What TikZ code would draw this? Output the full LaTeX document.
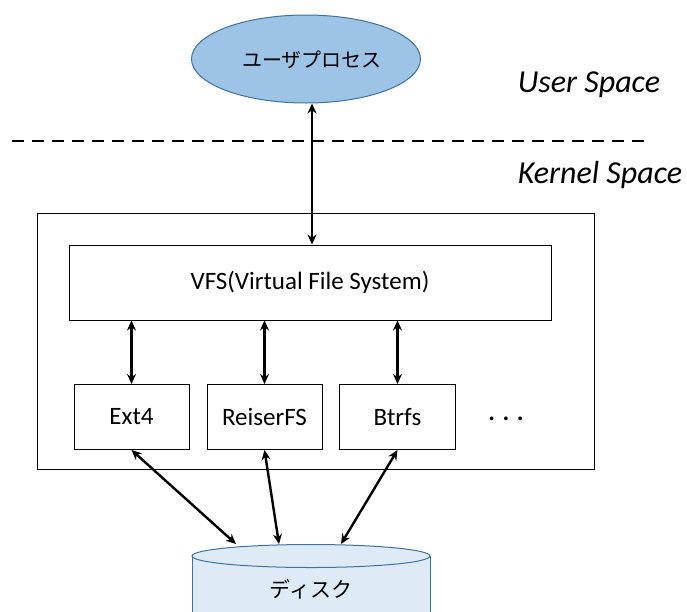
\documentclass[tikz,border=0pt]{standalone}
\usepackage{fontspec}
\setmainfont{Carlito}
\newfontfamily\jpfont{Noto Sans CJK JP}
\usetikzlibrary{arrows.meta,shapes.geometric}
\definecolor{procfill}{HTML}{9DC3E6}
\definecolor{procline}{HTML}{41719C}
\definecolor{diskfill}{HTML}{DEEBF7}
\tikzset{
  fsbox/.style={draw=black, line width=1pt, fill=white, inner sep=0pt},
  dbl/.style={line width=2.4pt, {Stealth[length=10pt,width=9pt]}-{Stealth[length=10pt,width=9pt]}},
  spacelabel/.style={font=\fontsize{32}{36}\selectfont\itshape, inner sep=0pt},
  boxtext/.style={font=\fontsize{25}{28}\selectfont},
}
\begin{document}
\begin{tikzpicture}[x=1pt,y=-1pt]
\useasboundingbox (0,0) rectangle (687,611);

% user process
\node[ellipse, draw=procline, line width=1pt, fill=procfill, inner sep=0pt,
      minimum width=229pt, minimum height=88pt] (proc) at (306,59) {};
\node[font=\jpfont\fontsize{20}{24}\selectfont, inner sep=0pt] (proctext) at (312,60) {ユーザプロセス};

% space labels and boundary
\node[spacelabel] (user) at (589,85) {User Space};
\node[spacelabel] (kernel) at (600,175) {Kernel Space};
\coordinate (dashL) at (12,141);
\coordinate (dashR) at (650,141);
\draw[line width=2pt, dash pattern=on 12pt off 8pt] (dashL) -- (dashR);

% kernel frame
\node[fsbox, minimum width=557pt, minimum height=256pt] (kframe) at (315.5,341) {};

% VFS layer
\node[fsbox, boxtext, minimum width=482pt, minimum height=75pt] (vfs) at (310,282.5) {VFS(Virtual File System)};

% filesystems
\node[fsbox, boxtext, minimum width=115pt, minimum height=65pt] (ext) at (131.5,417) {Ext4};
\node[fsbox, boxtext, minimum width=115pt, minimum height=65pt] (reiser) at (264.5,417) {ReiserFS};
\node[fsbox, boxtext, minimum width=116pt, minimum height=65pt] (btrfs) at (397.5,417) {Btrfs};
\node[font=\fontsize{25}{28}\selectfont\bfseries, inner sep=0pt, anchor=base] (dots) at (506,420) {. . .};

% disk
\fill[diskfill] (192,556) -- (192,640) -- (430,640) -- (430,556) -- cycle;
\draw[procline, line width=1pt] (192,556) -- (192,640) (430,556) -- (430,640);
\draw[procline, line width=1pt, fill=diskfill] (311,556) ellipse [x radius=119, y radius=11.5];
\node[font=\jpfont\fontsize{21}{25}\selectfont, inner sep=0pt] (disktext) at (311,589) {ディスク};
\coordinate (d1) at (236,544);
\coordinate (d2) at (279,544);
\coordinate (d3) at (341,544);

% connectors
\coordinate (ax) at (312,0);
\draw[dbl] (proc.south -| ax) -- (vfs.north -| ax);
\draw[dbl] (vfs.south -| ext) -- (ext.north);
\draw[dbl] (vfs.south -| reiser) -- (reiser.north);
\draw[dbl] (vfs.south -| btrfs) -- (btrfs.north);
\draw[dbl] (ext.south) -- (d1);
\draw[dbl] (reiser.south) -- (d2);
\draw[dbl] (btrfs.south) -- (d3);
\end{tikzpicture}
\end{document}
